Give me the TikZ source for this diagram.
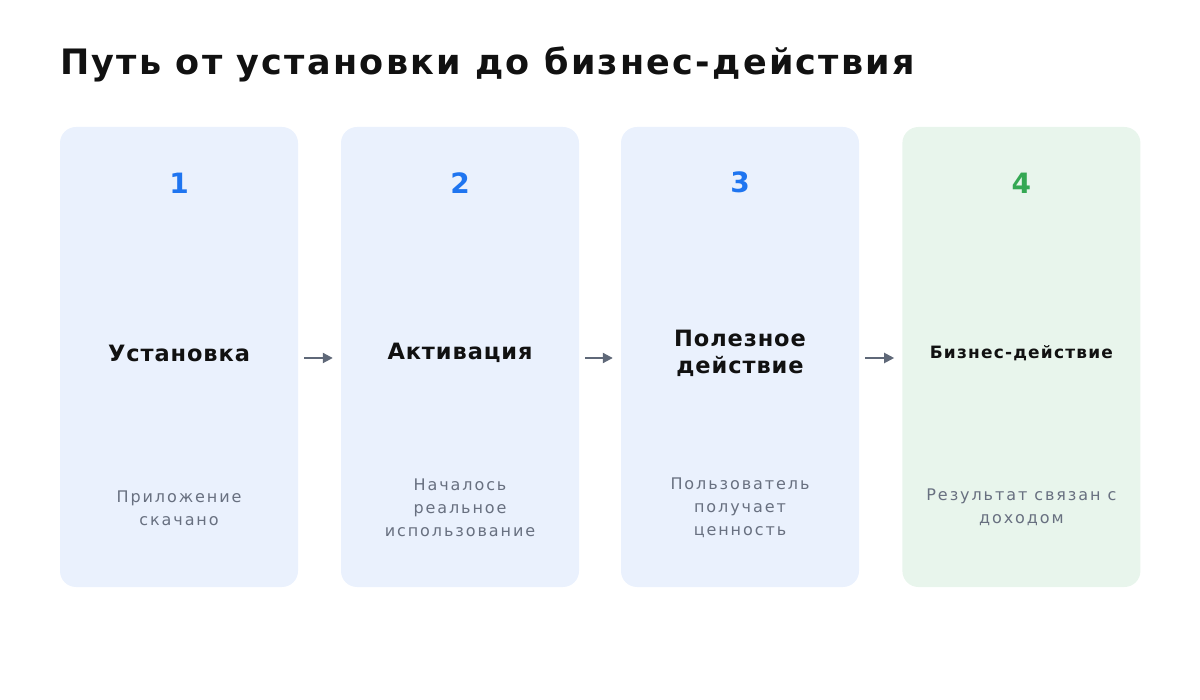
\documentclass[tikz,border=0pt]{standalone}
\usepackage{fontspec}
\setmainfont{DejaVu Sans}
\usetikzlibrary{positioning,arrows.meta}

\definecolor{cardblue}{HTML}{EAF1FD}
\definecolor{cardgreen}{HTML}{E8F5EC}
\definecolor{numblue}{HTML}{1F75F0}
\definecolor{numgreen}{HTML}{34A853}
\definecolor{inkblack}{HTML}{111111}
\definecolor{descgray}{HTML}{687080}
\definecolor{arrowgray}{HTML}{5F6878}

\begin{document}
\begin{tikzpicture}[x=1pt,y=-1pt,
    stagebox/.style={rectangle,rounded corners=16pt,fill=cardblue,minimum width=238pt,minimum height=460pt,inner sep=0pt},
    numtxt/.style={font=\fontsize{28}{30}\selectfont\bfseries,text=numblue},
    headtxt/.style={font=\fontsize{22.5}{27}\selectfont\bfseries\addfontfeature{LetterSpace=4},align=center,text=inkblack},
    desctxt/.style={font=\fontsize{16}{23}\selectfont\addfontfeature{LetterSpace=12},align=center,text=descgray},
    flow/.style={-{Triangle[length=10pt,width=10pt]},line width=2pt,draw=arrowgray}]
        \useasboundingbox (0,0) rectangle (1200,700);

        % Title
        \node[anchor=base west,font=\fontsize{35}{40}\selectfont\bfseries\addfontfeature{LetterSpace=6.4},text=inkblack,inner sep=0pt] (title) at (60,75) {Путь от установки до бизнес-действия};

        % Draw stage cards
        \foreach \i/\x in {1/179,2/460,3/740}
           {
                \node[stagebox] (stage\i) at (\x,357) {};
           }
        \node[stagebox,fill=cardgreen,right=43pt of stage3] (stage4) {};

        % Numbers
        \foreach \i in {1,2,3}
           {
                \node[numtxt] (num\i) at ([yshift=-56pt]stage\i.north) {\i};
           }
        \node[numtxt,text=numgreen] (num4) at ([yshift=-56pt]stage4.north) {4};

        % Headings
        \node[headtxt] (head1) at ([yshift=4pt]stage1.center) {Установка};
        \node[headtxt] (head2) at ([yshift=4pt]stage2.center) {Активация};
        \node[headtxt] (head3) at ([yshift=4pt]stage3.center) {Полезное\\действие};
        \node[headtxt,font=\fontsize{17}{22}\selectfont\bfseries\addfontfeature{LetterSpace=7}] (head4) at ([yshift=4pt]stage4.center) {Бизнес-действие};

        % Descriptions
        \node[desctxt] (desc1) at ([yshift=-151pt]stage1.center) {Приложение\\скачано};
        \node[desctxt] (desc2) at ([yshift=-151pt]stage2.center) {Началось\\реальное\\использование};
        \node[desctxt] (desc3) at ([yshift=-151pt]stage3.center) {Пользователь\\получает\\ценность};
        \node[desctxt] (desc4) at ([yshift=-150pt]stage4.center) {Результат связан с\\доходом};

        % Arrows between cards
        \foreach \a/\b in {1/2,2/3,3/4}
           {
                \draw[flow] ([xshift=6pt,yshift=-1pt]stage\a.east) -- ([xshift=-8pt,yshift=-1pt]stage\b.west);
           }
    \end{tikzpicture}
\end{document}
